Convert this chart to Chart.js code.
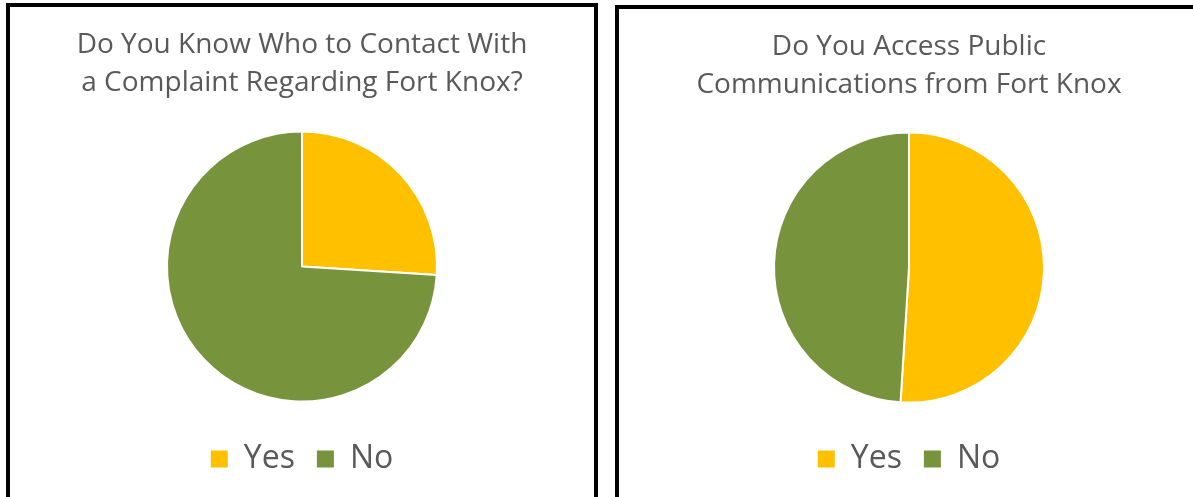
<!DOCTYPE html>
<html>
<head>
<meta charset="utf-8">
<script src="https://cdn.jsdelivr.net/npm/chart.js@4.4.1/dist/chart.umd.min.js"></script>
<style>
body{margin:0;background:#fff;width:1193px;height:497px;overflow:hidden;position:relative;}
.panel{position:absolute;border:4px solid #000;background:#fff;box-sizing:border-box;}
#p1{left:6px;top:3px;width:592px;height:540px;}
#p2{left:615px;top:5px;width:600px;height:540px;}
canvas{position:absolute;left:0;top:0;}
</style>
</head>
<body>
<div class="panel" id="p1"><canvas id="contactChart" width="584" height="490"></canvas></div>
<div class="panel" id="p2"><canvas id="accessChart" width="580" height="488"></canvas></div>
<script>
const answers=['Yes','No'];
const contactValues=[26,74];
const accessValues=[51,49];
const contactTitle=['Do You Know Who to Contact With','a Complaint Regarding Fort Knox?'];
const accessTitle=['Do You Access Public','Communications from Fort Knox'];
const sliceColors=['#FFC000','#77933C'];

function makePie(id,title,values){
const ctx=document.getElementById(id);
new Chart(ctx,{
type:'pie',
data:{
labels:answers,
datasets:[{
data:values,
backgroundColor:sliceColors,
borderColor:'#ffffff',
borderWidth:2,
radius:135
}]
},
options:{
responsive:false,
animation:false,
layout:{padding:{top:0,bottom:12}},
plugins:{
title:{
display:true,
text:title,
color:'#595959',
font:{family:'Open Sans',size:28,weight:'normal',lineHeight:1.36},
padding:{top:19,bottom:10}
},
legend:{
position:'bottom',
labels:{
color:'#595959',
font:{family:'Open Sans',size:32},
boxWidth:17,
boxHeight:17,
padding:22,
generateLabels:function(chart){
const items=Chart.overrides.pie.plugins.legend.labels.generateLabels(chart);
items.forEach(it=>{it.lineWidth=0;it.strokeStyle='transparent';});
return items;
}
}
},
tooltip:{enabled:false}
}
}
});
}

makePie('contactChart',contactTitle,contactValues);
makePie('accessChart',accessTitle,accessValues);
</script>
</body>
</html>
